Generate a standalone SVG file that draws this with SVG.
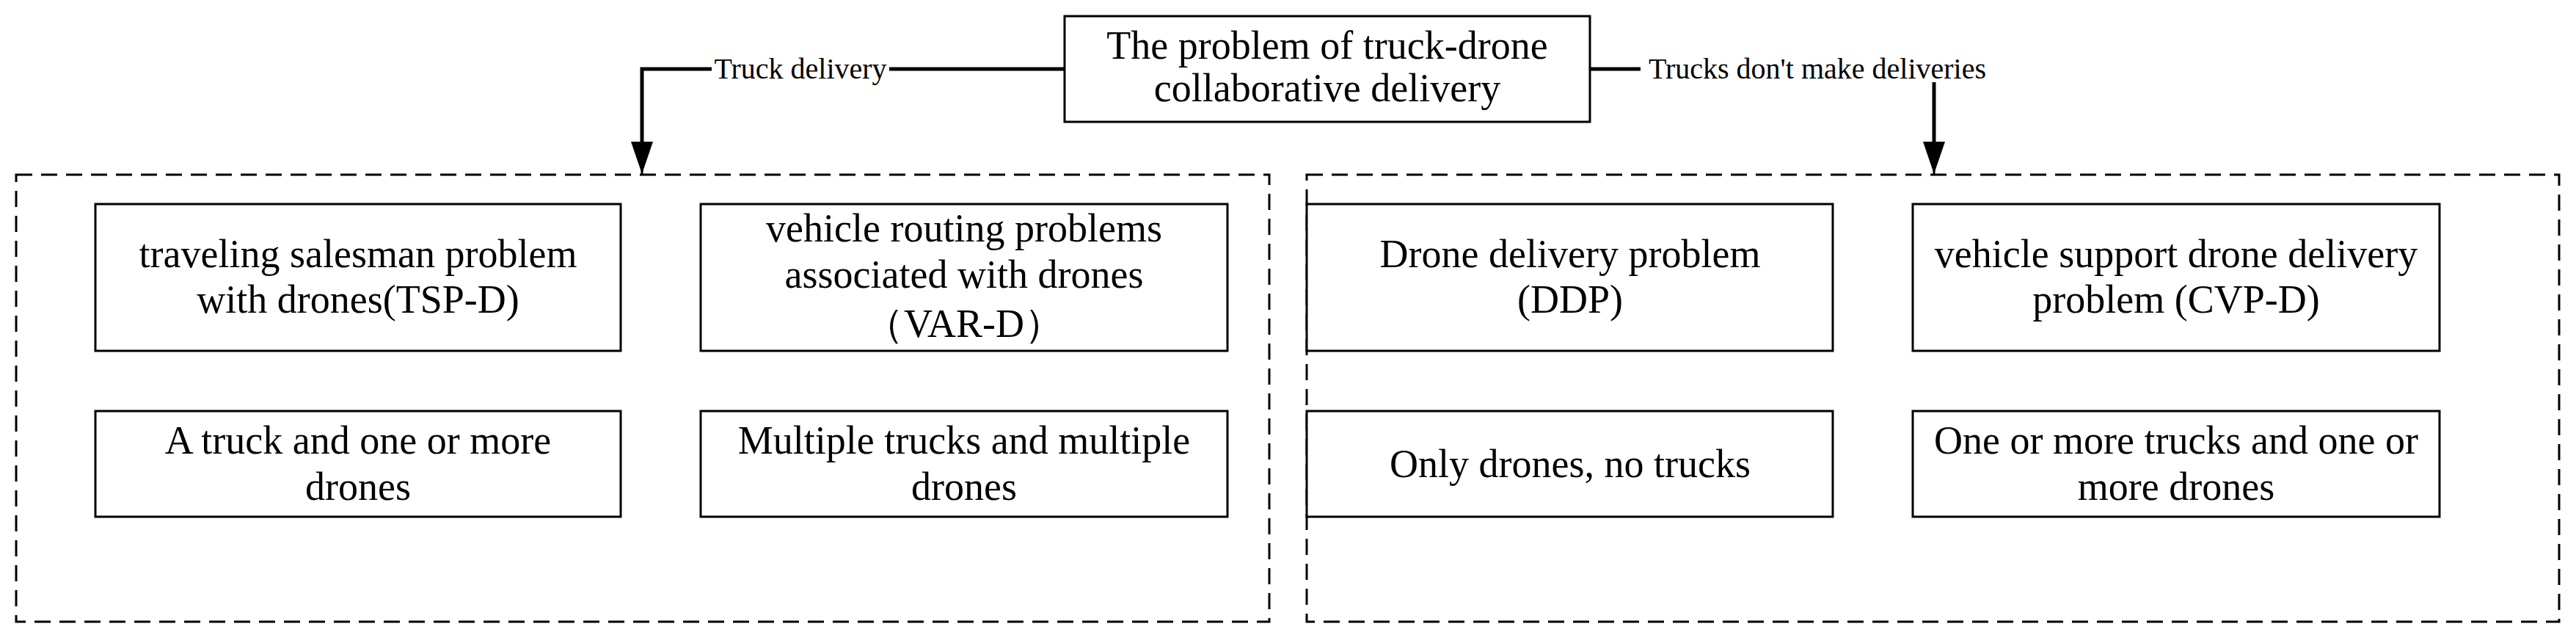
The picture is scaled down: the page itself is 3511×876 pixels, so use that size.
<svg xmlns="http://www.w3.org/2000/svg" width="3511" height="876" viewBox="0 0 3511 876" font-family="'Liberation Serif','Times New Roman',serif">
<style>
text{font-family:"Liberation Serif","Times New Roman",serif;font-size:54px;fill:#000;text-anchor:middle}
text.lbl{font-size:40px}
.box{fill:#fff;stroke:#000;stroke-width:3}
.dash{fill:none;stroke:#000;stroke-width:3;stroke-dasharray:22 12}
.con{fill:none;stroke:#000;stroke-width:5}
</style>
<defs>
<marker id="a" viewBox="0 0 30 44" refX="15" refY="44" markerWidth="30" markerHeight="44" markerUnits="userSpaceOnUse" orient="0"><path d="M0,0 L30,0 L15,44 Z" fill="#000"/></marker></defs>
<g id="left-group"><rect class="dash" x="22" y="238" width="1708" height="609"/></g>
<g id="right-group"><rect class="dash" x="1781" y="238" width="1707" height="609"/></g>
<g id="connectors">
<path class="con" d="M1451,94 H1212 M970,94 H875 V200"/>
<line x1="875" y1="190" x2="875" y2="237" stroke="#000" stroke-width="3" marker-end="url(#a)"/>
<path class="con" d="M2167,94 H2236"/>
<path class="con" d="M2636,112 V195"/>
<line x1="2636" y1="190" x2="2636" y2="237" stroke="#000" stroke-width="3" marker-end="url(#a)"/>
<text class="lbl" x="1091" y="107">Truck delivery</text>
<text class="lbl" x="2477" y="107">Trucks don't make deliveries</text>
</g>
<g id="root"><rect class="box" x="1451" y="22" width="716" height="144"/><text x="1809" y="80">The problem of truck-drone</text><text x="1809" y="138">collaborative delivery</text></g>
<g id="tspd"><rect class="box" x="130" y="278" width="716" height="200"/><text x="488" y="364">traveling salesman problem</text><text x="488" y="426">with drones(TSP-D)</text></g>
<g id="vard"><rect class="box" x="955" y="278" width="718" height="200"/><text x="1314" y="329">vehicle routing problems</text><text x="1314" y="392">associated with drones</text><text x="1314" y="459">（VAR-D）</text></g>
<g id="tspd-desc"><rect class="box" x="130" y="560" width="716" height="144"/><text x="488" y="618">A truck and one or more</text><text x="488" y="681">drones</text></g>
<g id="vard-desc"><rect class="box" x="955" y="560" width="718" height="144"/><text x="1314" y="618">Multiple trucks and multiple</text><text x="1314" y="681">drones</text></g>
<g id="ddp"><rect class="box" x="1781" y="278" width="717" height="200"/><text x="2140" y="364">Drone delivery problem</text><text x="2140" y="426">(DDP)</text></g>
<g id="cvpd"><rect class="box" x="2607" y="278" width="718" height="200"/><text x="2966" y="364">vehicle support drone delivery</text><text x="2966" y="426">problem (CVP-D)</text></g>
<g id="ddp-desc"><rect class="box" x="1781" y="560" width="717" height="144"/><text x="2140" y="650">Only drones, no trucks</text></g>
<g id="cvpd-desc"><rect class="box" x="2607" y="560" width="718" height="144"/><text x="2966" y="618">One or more trucks and one or</text><text x="2966" y="681">more drones</text></g>
</svg>
